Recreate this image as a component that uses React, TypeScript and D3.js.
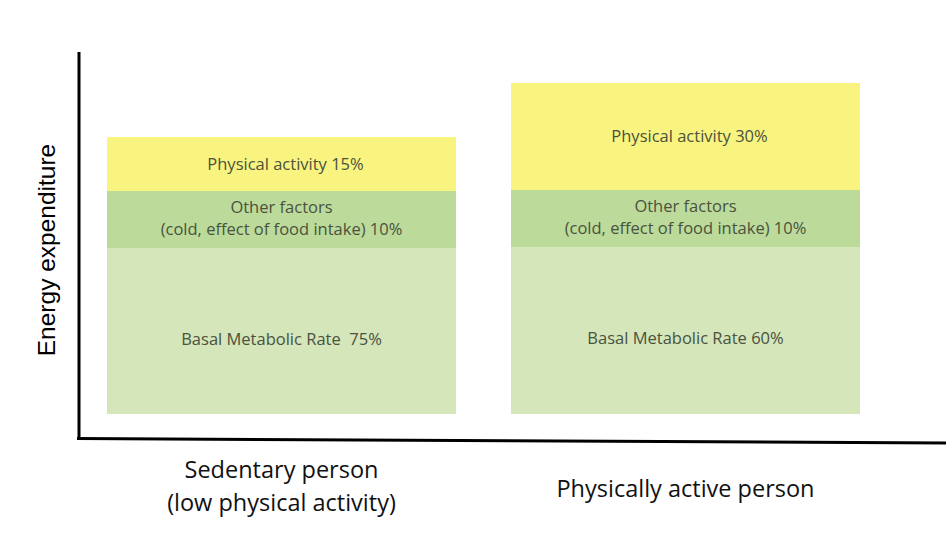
import React from "react";
import * as d3 from "d3";

const categories = ["Sedentary person", "Physically active person"];
const categoryLines = [["Sedentary person", "(low physical activity)"], ["Physically active person"]];
const bmrValues = [166, 167];
const otherValues = [57, 57];
const activityValues = [54, 107];
const bmrLabels = ["Basal Metabolic Rate  75%", "Basal Metabolic Rate 60%"];
const otherLabels = [["Other factors", "(cold, effect of food intake) 10%"], ["Other factors", "(cold, effect of food intake) 10%"]];
const activityLabels = ["Physical activity 15%", "Physical activity 30%"];

const W = 950;
const H = 551;

export default function App() {
  const x = d3.scaleBand<string>().domain(categories).range([107, 860]).paddingInner(55 / 404).paddingOuter(0);
  const y = d3.scaleLinear().domain([0, 362]).range([414, 52]);

  const stack = categories.map((c, i) => {
    const b0 = 0, b1 = bmrValues[i];
    const o0 = b1, o1 = b1 + otherValues[i];
    const a0 = o1, a1 = o1 + activityValues[i];
    return { c, segs: [
      { k: "bmr", y0: b0, y1: b1, fill: "#d4e6ba" },
      { k: "other", y0: o0, y1: o1, fill: "#bcda9a" },
      { k: "act", y0: a0, y1: a1, fill: "#f9f47f" },
    ] };
  });

  const textFont = "'Open Sans', sans-serif";
  const textColor = "#4a5240";
  const fs = 16.5;

  return (
    <svg width={W} height={H} style={{ position: "absolute", left: 0, top: 0, background: "#fff" }}>
      <rect width={W} height={H} fill="#fff" />
      {stack.map((s, i) => {
        const bx = x(s.c)!;
        const bw = x.bandwidth();
        const cx = bx + bw / 2;
        return (
          <g key={s.c}>
            {s.segs.map((sg) => (
              <rect key={sg.k} x={bx} y={y(sg.y1)} width={bw} height={y(sg.y0) - y(sg.y1)} fill={sg.fill} />
            ))}
            <text x={cx + 4} y={(y(s.segs[2].y0) + y(s.segs[2].y1)) / 2} dy="0.35em" textAnchor="middle"
              fontFamily={textFont} fontSize={fs} fill={textColor}>{activityLabels[i]}</text>
            <text x={cx} y={(y(s.segs[1].y0) + y(s.segs[1].y1)) / 2 - 12} dy="0.35em" textAnchor="middle"
              fontFamily={textFont} fontSize={fs} fill={textColor}>{otherLabels[i][0]}</text>
            <text x={cx} y={(y(s.segs[1].y0) + y(s.segs[1].y1)) / 2 + 10} dy="0.35em" textAnchor="middle"
              fontFamily={textFont} fontSize={fs} fill={textColor}>{otherLabels[i][1]}</text>
            <text x={cx} y={(y(s.segs[0].y0) + y(s.segs[0].y1)) / 2 + 8} dy="0.35em" textAnchor="middle"
              fontFamily={textFont} fontSize={fs} fill={textColor} style={{ whiteSpace: "pre" }}>{bmrLabels[i]}</text>
            {categoryLines[i].map((ln, j) => (
              <text key={j} x={cx} y={categoryLines[i].length === 1 ? 489 : 470 + j * 33} dy="0.35em" textAnchor="middle"
                fontFamily={textFont} fontSize={23.5} fill="#111">{ln}</text>
            ))}
          </g>
        );
      })}
      <line x1={79} y1={52} x2={79} y2={439} stroke="#000" strokeWidth={3} />
      <line x1={77} y1={438.5} x2={946} y2={443} stroke="#000" strokeWidth={3} />
      <text transform="translate(46,250) rotate(-90)" dy="0.35em" textAnchor="middle"
        fontFamily="'Liberation Sans', Arial, sans-serif" fontSize={24.5} fill="#000">Energy expenditure</text>
    </svg>
  );
}
